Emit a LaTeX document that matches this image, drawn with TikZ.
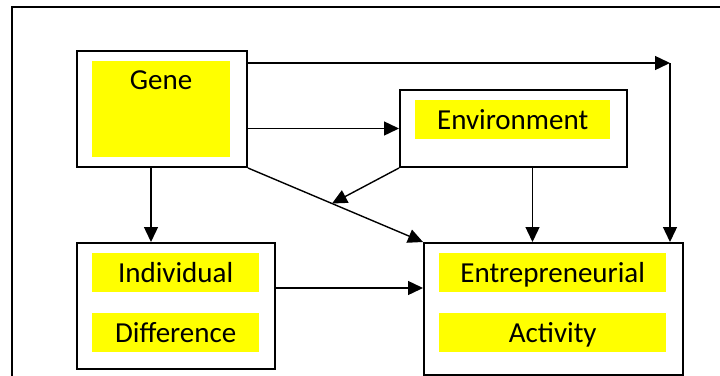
\documentclass[tikz,border=0pt]{standalone}
\usepackage{fontspec}
\setmainfont{Carlito}
\usetikzlibrary{arrows.meta,calc}
\definecolor{yel}{RGB}{255,255,0}
\begin{document}
\begin{tikzpicture}[x=1pt,y=-1pt,
  box/.style={draw=black,line width=2pt,fill=white,inner sep=0pt,anchor=north west},
  hl/.style={fill=yel,inner sep=0pt,anchor=north west,text height=18.7pt,text depth=0pt,font=\fontsize{29}{34}\selectfont},
  lbl/.style={inner sep=0pt,font=\fontsize{29}{34}\selectfont},
  arr/.style={line width=1.4pt,-{Triangle[length=15pt,width=14pt]}}]
\useasboundingbox (0,0) rectangle (720,375);
\draw[line width=1.6pt] (12,390) -- (12,7) -- (730,7);
% boxes
\node[box,minimum width=170pt,minimum height=116pt] (gene) at (76,50) {};
\node[hl,minimum width=138pt,minimum height=96pt] (geneY) at (92,61) {};
\node[lbl,anchor=base] (geneT) at (161,89) {Gene};
\node[box,minimum width=227pt,minimum height=77pt] (env) at (399,89) {};
\node[hl,minimum width=195pt,minimum height=39pt] (envY) at (415,100) {Environment};
\node[box,minimum width=198pt,minimum height=126pt] (ind) at (76,242) {};
\node[hl,minimum width=167pt,minimum height=39pt] (indA) at (92,253) {Individual};
\node[hl,minimum width=167pt,minimum height=39pt] (indB) at (92,313) {Difference};
\node[box,minimum width=259pt,minimum height=132pt] (ent) at (423,242) {};
\node[hl,minimum width=227pt,minimum height=39pt] (entA) at (439,253) {Entrepreneurial};
\node[hl,minimum width=227pt,minimum height=39pt] (entB) at (439,313) {Activity};
% connectors
\coordinate (corner) at (670,63);
\coordinate (iy) at (0,288);
\coordinate (mid) at ($(gene.south east)!0.48!(ent.north west)$);
\draw[arr] (gene.east |- corner) -- (corner);
\draw[arr] (corner) -- (corner |- ent.north);
\draw[arr] (gene.east |- env.west) -- (env.west);
\draw[arr] ([xshift=-11pt]gene.south) -- ([xshift=-25pt]ind.north);
\draw[arr] (gene.south east) -- (ent.north west);
\draw[arr] (env.south west) -- (mid);
\draw[arr] ([xshift=19pt]env.south) -- ([xshift=-21pt]ent.north);
\draw[arr] (ind.east |- iy) -- (ent.west |- iy);
\end{tikzpicture}
\end{document}
